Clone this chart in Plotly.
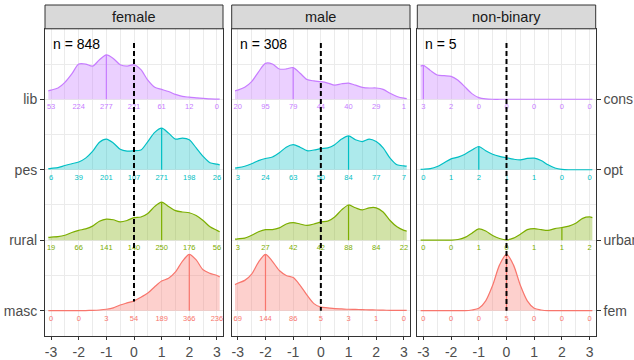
import numpy as np
import plotly.graph_objects as go

# ---------------- data ----------------
X = [-3.1, -3, -2.75, -2.5, -2.25, -2, -1.75, -1.5, -1.25, -1, -0.75, -0.5, -0.25,
     0, 0.25, 0.5, 0.75, 1, 1.25, 1.5, 1.75, 2, 2.25, 2.5, 2.75, 3, 3.1]
COUNT_X = [-3, -2, -1, 0, 1, 2, 3]

panels = ["female", "male", "non-binary"]
n_total = [848, 308, 5]
left_labels = ["masc", "rural", "pes", "lib"]
right_labels = ["fem", "urban", "opt", "cons"]

# ridge heights (bottom -> top order per panel: masc, rural, pes, lib)
f_lib = [0.12, 0.13, 0.16, 0.24, 0.36, 0.50, 0.50, 0.47, 0.56, 0.63, 0.58, 0.49, 0.47,
         0.49, 0.42, 0.27, 0.17, 0.14, 0.11, 0.07, 0.04, 0.03, 0.02, 0.014, 0.005, 0.003, 0.002]
f_pes = [0.015, 0.02, 0.03, 0.06, 0.085, 0.11, 0.165, 0.26, 0.39, 0.435, 0.38, 0.29, 0.265,
         0.27, 0.28, 0.40, 0.53, 0.59, 0.52, 0.435, 0.45, 0.425, 0.31, 0.19, 0.10, 0.08, 0.07]
f_rural = [0.04, 0.045, 0.05, 0.07, 0.11, 0.14, 0.16, 0.20, 0.27, 0.30, 0.29, 0.26, 0.28,
           0.32, 0.33, 0.38, 0.48, 0.54, 0.48, 0.42, 0.40, 0.39, 0.35, 0.28, 0.19, 0.14, 0.12]
f_masc = [0, 0, 0, 0, 0, 0, 0.002, 0.005, 0.01, 0.02, 0.04, 0.08, 0.11,
          0.14, 0.19, 0.25, 0.34, 0.42, 0.46, 0.55, 0.70, 0.80, 0.72, 0.58, 0.53, 0.50, 0.48]

m_lib = [0.12, 0.13, 0.17, 0.25, 0.39, 0.51, 0.50, 0.43, 0.43, 0.45, 0.37, 0.28, 0.26,
         0.25, 0.23, 0.20, 0.22, 0.23, 0.20, 0.17, 0.16, 0.16, 0.14, 0.085, 0.04, 0.015, 0.01]
m_pes = [0.025, 0.03, 0.05, 0.085, 0.13, 0.16, 0.18, 0.24, 0.32, 0.355, 0.32, 0.27, 0.28,
         0.30, 0.31, 0.355, 0.435, 0.48, 0.425, 0.40, 0.435, 0.40, 0.31, 0.165, 0.07, 0.055, 0.05]
m_rural = [0.015, 0.02, 0.03, 0.07, 0.12, 0.15, 0.15, 0.175, 0.23, 0.25, 0.23, 0.21, 0.23,
           0.26, 0.27, 0.33, 0.43, 0.50, 0.46, 0.43, 0.46, 0.46, 0.40, 0.28, 0.19, 0.14, 0.13]
m_masc = [0.37, 0.39, 0.43, 0.52, 0.69, 0.80, 0.70, 0.57, 0.50, 0.47, 0.36, 0.22, 0.10,
          0.05, 0.04, 0.03, 0.025, 0.02, 0.018, 0.015, 0.012, 0.01, 0.008, 0.005, 0.004, 0.003, 0.003]

n_cons = [0.47, 0.48, 0.41, 0.345, 0.335, 0.325, 0.27, 0.175, 0.08, 0.024, 0.005, 0, 0,
          0, 0, 0, 0, 0, 0, 0, 0, 0, 0, 0, 0, 0, 0]
n_opt = [0.005, 0.007, 0.015, 0.045, 0.10, 0.155, 0.18, 0.22, 0.28, 0.33, 0.27, 0.22, 0.19,
         0.17, 0.15, 0.14, 0.16, 0.165, 0.13, 0.07, 0.024, 0.005, 0, 0, 0, 0, 0]
n_urban = [0, 0, 0, 0, 0, 0.002, 0.01, 0.04, 0.10, 0.16, 0.13, 0.066, 0.024,
           0.005, 0.03, 0.085, 0.15, 0.165, 0.15, 0.14, 0.165, 0.18, 0.20, 0.24, 0.31, 0.33, 0.32]
n_fem = [0, 0, 0, 0, 0, 0, 0, 0, 0.01, 0.035, 0.14, 0.36, 0.65,
         0.80, 0.65, 0.36, 0.14, 0.035, 0.01, 0, 0, 0, 0, 0, 0, 0, 0]

# counts at -3..3
c_f_lib = [53, 224, 277, 221, 61, 12, 0]
c_f_pes = [6, 39, 201, 107, 271, 198, 26]
c_f_rural = [19, 66, 141, 140, 250, 176, 56]
c_f_masc = [0, 0, 3, 54, 189, 366, 236]
c_m_lib = [20, 95, 79, 44, 40, 29, 1]
c_m_pes = [3, 24, 63, 50, 84, 77, 7]
c_m_rural = [3, 27, 42, 42, 88, 84, 22]
c_m_masc = [69, 144, 86, 5, 3, 1, 0]
c_n_cons = [3, 2, 0, 0, 0, 0, 0]
c_n_opt = [0, 1, 2, 1, 1, 0, 0]
c_n_urban = [0, 0, 1, 0, 1, 1, 2]
c_n_fem = [0, 0, 0, 5, 0, 0, 0]

# medians (bottom -> top)
med_female = [2, 1, 1, -1]
med_male = [-2, 1, 1, -1]
med_nonbinary = [0, 2, -1, -3]

dash_bottom = [1.13, 1.0, 1.0]

colors = ["#F8766D", "#7CAE00", "#00BFC4", "#C77CFF"]
fills = ["rgba(248,118,109,0.34)", "rgba(124,174,0,0.34)",
         "rgba(0,191,196,0.32)", "rgba(199,124,255,0.36)"]

heights = [[f_masc, f_rural, f_pes, f_lib],
           [m_masc, m_rural, m_pes, m_lib],
           [n_fem, n_urban, n_opt, n_cons]]
counts = [[c_f_masc, c_f_rural, c_f_pes, c_f_lib],
          [c_m_masc, c_m_rural, c_m_pes, c_m_lib],
          [c_n_fem, c_n_urban, c_n_opt, c_n_cons]]
medians = [med_female, med_male, med_nonbinary]

# ---------------- layout geometry ----------------
W, H = 634, 360
FONT = "Liberation Sans, Arial, Helvetica, sans-serif"
px_x = [(45, 223), (231.7, 410), (417.3, 595.7)]
px_top, px_bot = 28.8, 335.7
strip_top = 5
XR = [-3.22, 3.22]
YR = [0.645, 5.0]

fig = go.Figure()

for p in range(3):
    sfx = "" if p == 0 else str(p + 1)
    xa, ya = "x" + sfx, "y" + sfx
    for k in [3, 2, 1, 0]:
        base = k + 1
        h = np.array(heights[p][k], dtype=float)
        fig.add_trace(go.Scatter(x=X, y=[base] * len(X), mode="lines",
                                 line=dict(width=0, color=colors[k]),
                                 hoverinfo="skip", showlegend=False,
                                 xaxis=xa, yaxis=ya))
        fig.add_trace(go.Scatter(x=X, y=base + h, mode="lines",
                                 line=dict(width=1.2, color=colors[k], shape="spline",
                                           smoothing=0.8),
                                 fill="tonexty", fillcolor=fills[k],
                                 hoverinfo="skip", showlegend=False,
                                 xaxis=xa, yaxis=ya))
        m = medians[p][k]
        mh = float(np.interp(m, X, h))
        fig.add_trace(go.Scatter(x=[m, m], y=[base, base + mh], mode="lines",
                                 line=dict(width=1.2, color=colors[k]),
                                 hoverinfo="skip", showlegend=False,
                                 xaxis=xa, yaxis=ya))
        fig.add_trace(go.Scatter(x=COUNT_X, y=[base - 0.115] * len(COUNT_X),
                                 mode="text", text=[str(c) for c in counts[p][k]],
                                 textposition="middle center",
                                 textfont=dict(size=7.5, color=colors[k], family=FONT),
                                 cliponaxis=False, hoverinfo="skip", showlegend=False,
                                 xaxis=xa, yaxis=ya))
    fig.add_trace(go.Scatter(x=[0, 0], y=[4.8, dash_bottom[p]], mode="lines",
                             line=dict(width=2, color="black", dash="5px,3px"),
                             hoverinfo="skip", showlegend=False,
                             xaxis=xa, yaxis=ya))

    x0, x1 = px_x[p]
    common_x = dict(domain=[x0 / W, x1 / W], range=XR, anchor=ya,
                    tickmode="array", tickvals=COUNT_X,
                    ticktext=[str(v) for v in COUNT_X],
                    ticks="outside", ticklen=3, tickwidth=1, tickcolor="#333333",
                    showline=True, mirror=True, linecolor="#333333", linewidth=1,
                    showgrid=True, gridcolor="#EBEBEB", gridwidth=1.1,
                    minor=dict(tickvals=[-2.5, -1.5, -0.5, 0.5, 1.5, 2.5],
                               showgrid=True, gridcolor="#EBEBEB", gridwidth=0.6,
                               ticks=""),
                    zeroline=False, automargin=False, fixedrange=True,
                    tickfont=dict(size=14, color="#4D4D4D", family=FONT))
    ydom = [(H - px_bot) / H, (H - px_top) / H]
    common_y = dict(domain=ydom, range=YR, anchor=xa,
                    tickmode="array", tickvals=[1, 2, 3, 4],
                    showline=True, mirror=True, linecolor="#333333", linewidth=1,
                    showgrid=True, gridcolor="#EBEBEB", gridwidth=1.1,
                    minor=dict(tickvals=[1.5, 2.5, 3.5, 4.5], showgrid=True,
                               gridcolor="#EBEBEB", gridwidth=0.6, ticks=""),
                    zeroline=False, automargin=False, fixedrange=True,
                    tickfont=dict(size=14, color="#4D4D4D", family=FONT))
    if p == 0:
        common_y.update(ticktext=left_labels, ticks="outside", ticklen=4,
                        tickwidth=1, tickcolor="#333333", side="left")
    elif p == 2:
        common_y.update(ticktext=right_labels, ticks="outside", ticklen=4,
                        tickwidth=1, tickcolor="#333333", side="right")
    else:
        common_y.update(ticktext=["", "", "", ""], ticks="", showticklabels=False)
    fig.update_layout({"xaxis" + sfx: common_x, "yaxis" + sfx: common_y})

    # strip
    fig.add_shape(type="rect", xref="paper", yref="paper",
                  x0=x0 / W, x1=x1 / W, y0=(H - px_top) / H, y1=(H - strip_top) / H,
                  fillcolor="#D9D9D9", line=dict(color="#333333", width=1), layer="above")
    fig.add_annotation(xref="paper", yref="paper", x=(x0 + x1) / 2 / W,
                       y=(H - (px_top + strip_top) / 2) / H, text=panels[p],
                       showarrow=False, xanchor="center", yanchor="middle",
                       font=dict(size=14.5, color="#1A1A1A", family=FONT))
    fig.add_annotation(xref=xa, yref=ya, x=-3.0, y=4.79, text="n = %d" % n_total[p],
                       showarrow=False, xanchor="left", yanchor="middle",
                       font=dict(size=14, color="black", family=FONT))

fig.update_layout(width=W, height=H, margin=dict(l=0, r=0, t=0, b=0),
                  paper_bgcolor="white", plot_bgcolor="white", showlegend=False,
                  font=dict(family=FONT), hovermode=False)

fig.write_html("out.html", config={"displayModeBar": False},
               post_script="document.body.style.margin='0';document.body.style.overflow='hidden';")
